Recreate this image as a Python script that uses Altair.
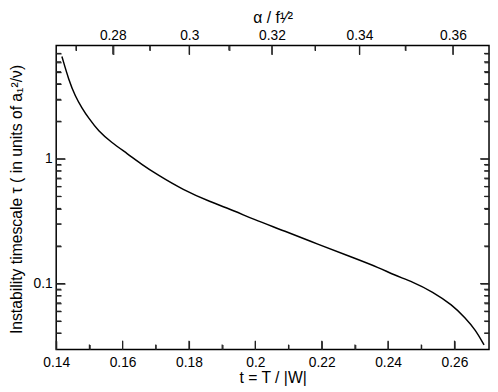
import altair as alt
import pandas as pd

# Curve: t = T/|W| and instability timescale tau
t_vals = [0.14172, 0.14379, 0.14578, 0.14777, 0.14972, 0.15269, 0.15666, 0.16158,
          0.16573, 0.17039, 0.17830, 0.18619, 0.19411, 0.19906, 0.20893, 0.21880,
          0.22871, 0.23760, 0.24154, 0.24747, 0.25340, 0.25933, 0.26327, 0.26624,
          0.26891]
tau_vals = [6.62, 4.28, 3.16, 2.555, 2.13, 1.673, 1.352, 1.095,
            0.902, 0.748, 0.562, 0.4544, 0.379, 0.330, 0.2634, 0.2069,
            0.1642, 0.1330, 0.1178, 0.1031, 0.0860, 0.0674, 0.0529, 0.0428,
            0.0322]

# Bottom axis ticks (t)
x_major = [0.14, 0.16, 0.18, 0.20, 0.22, 0.24, 0.26]
x_minor = [0.15, 0.17, 0.19, 0.21, 0.23, 0.25]

# Top axis (alpha / f^1/2), non-linear in t: tick positions in t and labels
top_major_t = [0.15705, 0.18008, 0.20499, 0.23137, 0.25954]
top_major_labels = ["0.28", "0.3", "0.32", "0.34", "0.36"]
top_minor_t = [0.14599, 0.16822, 0.19203, 0.21803, 0.24519]

# Y axis (log) ticks
y_major = [0.1, 1]
y_minor = [0.04, 0.05, 0.06, 0.07, 0.08, 0.09,
           0.2, 0.3, 0.4, 0.5, 0.6, 0.7, 0.8, 0.9,
           2, 3, 4, 5, 6, 7]

W, H = 440, 309
FONT = "Liberation Sans"
MAJ, MIN = 9, 5

curve = pd.DataFrame({"t": t_vals, "tau": tau_vals})
xs = alt.Scale(domain=[0.14, 0.2704], nice=False, zero=False)
ys = alt.Scale(type="log", domain=[0.0296, 8.1], nice=False)

TXT = dict(labelFont=FONT, labelFontSize=14, labelColor="black",
           titleFont=FONT, titleFontSize=16, titleFontWeight="normal", titleColor="black",
           grid=False, tickOpacity=0, domainOpacity=0)


def tick_axis(orient, offset, values, size):
    return alt.Axis(orient=orient, offset=offset, values=values,
                    tickSize=size, tickColor="#222222", tickWidth=1.2,
                    labels=False, domainOpacity=0, grid=False, title=None)


line = alt.Chart(curve).mark_line(color="black", strokeWidth=1.5, interpolate="basis").encode(
    x=alt.X("t:Q", scale=xs, axis=alt.Axis(
        orient="bottom", values=x_major, format=".2~f", title="t = T / |W|",
        labelPadding=1, labelFlush=False, titleY=34, titleBaseline="alphabetic", **TXT)),
    y=alt.Y("tau:Q", scale=ys, axis=alt.Axis(
        orient="left", values=y_major, format="~g",
        title="Instability timescale τ ( in units of a₁²/ν)", labelFlush=False,
        labelPadding=-1, titleX=-35, titleY=156, titleBaseline="alphabetic", **TXT)),
)

# label lookup for the non-linear top axis as a ternary chain
label_expr = "''"
for i in range(len(top_major_t) - 1, -1, -1):
    label_expr = "abs(datum.value - %r) < 0.001 ? '%s' : (%s)" % (
        top_major_t[i], top_major_labels[i], label_expr)

top_axis = alt.Axis(orient="top", values=top_major_t, labelExpr=label_expr,
                    title="α / f¹⁄²", labelPadding=-2, labelFlush=False, titleY=-23,
                    titleBaseline="alphabetic", **TXT)


def carrier(xaxis, yaxis):
    return alt.Chart(curve).mark_point(opacity=0).encode(
        x=alt.X("t:Q", scale=xs, axis=xaxis),
        y=alt.Y("tau:Q", scale=ys, axis=yaxis),
    )


def xrules(vals, name, y0, y1):
    return alt.Chart(pd.DataFrame({name: vals})).mark_rule(color="#222222", strokeWidth=1.2).encode(
        x=alt.X(name + ":Q", scale=xs, axis=None), y=alt.value(y0), y2=alt.value(y1))


def yrules(vals, name, x0, x1):
    return alt.Chart(pd.DataFrame({name: vals})).mark_rule(color="#222222", strokeWidth=1.2).encode(
        y=alt.Y(name + ":Q", scale=ys, axis=None), x=alt.value(x0), x2=alt.value(x1))


layers = [
    line,
    carrier(tick_axis("top", -H, x_major, MAJ), tick_axis("right", -W, y_major, MAJ)),
    carrier(tick_axis("top", -H, x_minor, MIN), tick_axis("right", -W, y_minor, MIN)),
    carrier(top_axis, tick_axis("left", -W, y_major, MAJ)),
    carrier(tick_axis("bottom", -H, top_major_t, MAJ), tick_axis("left", -W, y_minor, MIN)),
    carrier(tick_axis("bottom", -H, top_minor_t, MIN), None),
    xrules(x_major, "bmaj", H, H - MAJ),
    xrules(x_minor, "bmin", H, H - MIN),
    xrules(top_major_t, "tmaj", 0, MAJ),
    xrules(top_minor_t, "tmin", 0, MIN),
    yrules(y_major, "lmaj", 0, MAJ),
    yrules(y_minor, "lmin", 0, MIN),
    yrules(y_major, "rmaj", W, W - MAJ),
    yrules(y_minor, "rmin", W, W - MIN),
]

chart = alt.layer(*layers).resolve_axis(x="independent", y="independent").properties(
    width=W, height=H,
    autosize=alt.AutoSizeParams(type="none"),
    padding={"left": 49, "top": 35, "right": 1, "bottom": 38},
).configure_view(stroke="black", strokeWidth=1.5)

chart.save("out.html", embed_options={"renderer": "svg", "actions": False})
